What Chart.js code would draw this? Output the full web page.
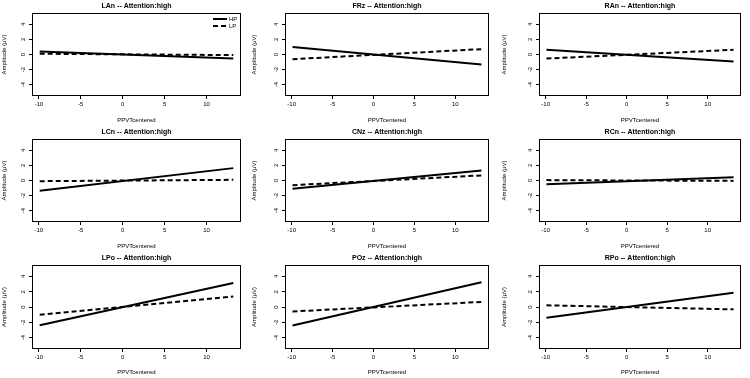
<!DOCTYPE html>
<html>
<head>
<meta charset="utf-8">
<script src="https://cdn.jsdelivr.net/npm/chart.js@4.4.1/dist/chart.umd.min.js"></script>
<style>
  body { margin: 0; background: #fff; }
  #grid { position: relative; width: 750px; height: 378px; }
  #grid canvas { position: absolute; }
</style>
</head>
<body>
<div id="grid"></div>
<script>
// panels, read row by row
const panelNames = ["LAn", "FRz", "RAn", "LCn", "CNz", "RCn", "LPo", "POz", "RPo"];
const seriesLabels = ["HP", "LP"];
// PPVTcentered at the two ends of each fitted line
const xEnds = [-9.9, 13.2];
// amplitude at those ends (uV)
const hpValues = [
  [0.4, -0.53], [0.98, -1.33], [0.62, -0.93],
  [-1.36, 1.64], [-1.1, 1.33], [-0.49, 0.44],
  [-2.39, 3.14], [-2.43, 3.23], [-1.42, 1.86]
];
const lpValues = [
  [0.1, -0.08], [-0.62, 0.71], [-0.53, 0.62],
  [-0.09, 0.09], [-0.62, 0.67], [0.05, -0.05],
  [-1.02, 1.37], [-0.58, 0.66], [0.22, -0.31]
];
const xTicks = [-10, -5, 0, 5, 10];
const yTicks = [-4, -2, 0, 2, 4];

const FONT = "'Liberation Sans', Arial, Helvetica, sans-serif";
const W = 250, H = 126;
// plot box edges inside each panel, per column
const colLeft = [32, 35, 39];
const colRight = [241, 239, 241];

// R style box round the plot region
const framePlugin = {
  id: "frame",
  afterDatasetsDraw(chart) {
    const a = chart.chartArea, c = chart.ctx;
    c.save();
    c.strokeStyle = "#000";
    c.lineWidth = 1;
    c.strokeRect(Math.round(a.left) + 0.5, Math.round(a.top) + 0.5,
      Math.round(a.right - a.left) - 1, Math.round(a.bottom - a.top) - 1);
    c.restore();
  }
};

// legend drawn inside the top right corner (only first panel)
const insideLegend = {
  id: "insideLegend",
  afterDraw(chart, args, opts) {
    if (!opts.show) return;
    const items = Chart.defaults.plugins.legend.labels.generateLabels(chart);
    const a = chart.chartArea, c = chart.ctx;
    c.save();
    items.forEach((it, i) => {
      const y = a.top + 6 + i * 7;
      c.strokeStyle = it.strokeStyle;
      c.lineWidth = it.lineWidth;
      c.setLineDash(it.lineDash || []);
      c.beginPath();
      c.moveTo(a.right - 28, y);
      c.lineTo(a.right - 14, y);
      c.stroke();
      c.setLineDash([]);
      c.fillStyle = "#000";
      c.font = "6px " + FONT;
      c.textBaseline = "middle";
      c.fillText(it.text, a.right - 12, y);
    });
    c.restore();
  }
};

const grid = document.getElementById("grid");

panelNames.forEach((name, p) => {
  const col = p % 3, row = Math.floor(p / 3);
  const cv = document.createElement("canvas");
  cv.width = W; cv.height = H;
  cv.style.left = (col * W) + "px";
  cv.style.top = (row * H) + "px";
  grid.appendChild(cv);

  const bottomH = row === 2 ? 29 : 30;

  new Chart(cv.getContext("2d"), {
    type: "line",
    data: {
      datasets: [
        {
          label: seriesLabels[0],
          data: xEnds.map((x, i) => ({ x: x, y: hpValues[p][i] })),
          borderColor: "#000",
          borderWidth: 2,
          pointRadius: 0,
          fill: false
        },
        {
          label: seriesLabels[1],
          data: xEnds.map((x, i) => ({ x: x, y: lpValues[p][i] })),
          borderColor: "#000",
          borderWidth: 2,
          borderDash: [5, 3],
          pointRadius: 0,
          fill: false
        }
      ]
    },
    options: {
      responsive: false,
      animation: false,
      layout: { padding: { left: 0, right: W - colRight[col], top: 0, bottom: 0 } },
      plugins: {
        legend: { display: false },
        tooltip: { enabled: false },
        insideLegend: { show: p === 0 },
        title: {
          display: true,
          text: name + " -- Attention:high",
          fullSize: false,
          color: "#000",
          font: { family: FONT, size: 7, weight: "bold", lineHeight: 1.2 },
          padding: { top: 2, bottom: 2.6 }
        }
      },
      scales: {
        x: {
          type: "linear",
          min: -10.82,
          max: 14.12,
          afterBuildTicks: s => { s.ticks = xTicks.map(v => ({ value: v })); },
          afterFit: s => { s.height = bottomH; },
          ticks: { color: "#000", font: { family: FONT, size: 6 }, padding: 2, autoSkip: false, maxRotation: 0 },
          grid: { drawOnChartArea: false, tickLength: 3, color: "#000" },
          border: { display: false },
          title: { display: true, text: "PPVTcentered", color: "#000", font: { family: FONT, size: 6 }, padding: { top: 0, bottom: 2 } }
        },
        y: {
          min: -5.5,
          max: 5.5,
          afterBuildTicks: s => { s.ticks = yTicks.map(v => ({ value: v })); },
          afterFit: s => { s.width = colLeft[col]; },
          ticks: { color: "#000", font: { family: FONT, size: 6 }, padding: 3, minRotation: 90, maxRotation: 90, crossAlign: "center", autoSkip: false },
          grid: { drawOnChartArea: false, tickLength: 3, color: "#000" },
          border: { display: false },
          title: { display: true, text: "Amplitude (μV)", color: "#000", font: { family: FONT, size: 6 }, padding: { top: 1, bottom: 0 } }
        }
      }
    },
    plugins: [framePlugin, insideLegend]
  });
});
</script>
</body>
</html>
